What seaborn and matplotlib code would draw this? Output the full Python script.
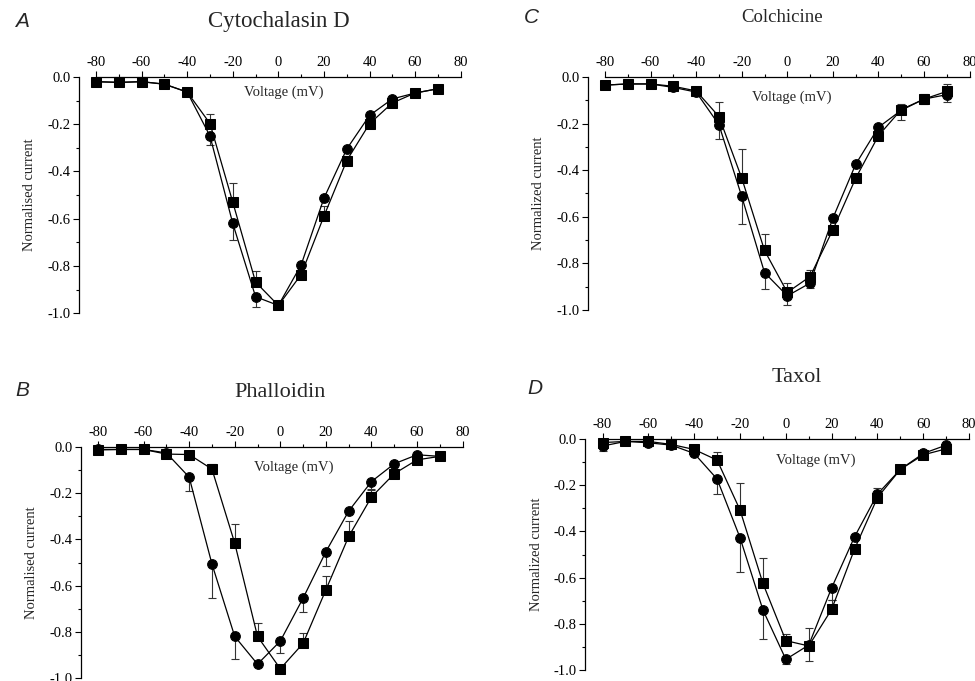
import matplotlib
matplotlib.use('Agg')
import matplotlib.pyplot as plt
import seaborn as sns
import numpy as np
import pandas as pd

voltage = [-80, -70, -60, -50, -40, -30, -20, -10, 0, 10, 20, 30, 40, 50, 60, 70]

# Cytochalasin D
cyto_circle = [-0.02, -0.023, -0.02, -0.03, -0.064, -0.25, -0.62, -0.93, -0.967, -0.795, -0.513, -0.305, -0.163, -0.093, -0.068, -0.05]
cyto_circle_err = [0, 0, 0, 0, 0, 0.04, 0.07, 0.045, 0, 0, 0, 0, 0, 0, 0, 0]
cyto_square = [-0.02, -0.023, -0.02, -0.031, -0.064, -0.197, -0.53, -0.868, -0.967, -0.836, -0.589, -0.354, -0.198, -0.11, -0.068, -0.05]
cyto_square_err = [0, 0, 0, 0, 0, 0.04, 0.08, 0.045, 0, 0, 0.045, 0.02, 0, 0, 0, 0]

# Colchicine
colch_circle = [-0.035, -0.03, -0.03, -0.045, -0.065, -0.205, -0.513, -0.84, -0.94, -0.885, -0.606, -0.375, -0.216, -0.143, -0.095, -0.076]
colch_circle_err = [0, 0, 0, 0, 0, 0.06, 0.117, 0.07, 0.04, 0.02, 0, 0, 0, 0.04, 0.02, 0.03]
colch_square = [-0.035, -0.03, -0.03, -0.04, -0.06, -0.17, -0.434, -0.745, -0.925, -0.857, -0.656, -0.435, -0.252, -0.14, -0.095, -0.062]
colch_square_err = [0, 0, 0, 0, 0, 0.063, 0.125, 0.07, 0.04, 0.03, 0, 0, 0, 0.025, 0.02, 0.03]

# Phalloidin
phall_circle = [-0.01, -0.01, -0.01, -0.025, -0.13, -0.506, -0.82, -0.94, -0.84, -0.654, -0.453, -0.277, -0.149, -0.072, -0.033, -0.04]
phall_circle_err = [0, 0, 0, 0, 0.06, 0.147, 0.096, 0, 0.053, 0.058, 0.06, 0, 0.036, 0, 0, 0]
phall_square = [-0.012, -0.01, -0.01, -0.03, -0.032, -0.095, -0.416, -0.82, -0.96, -0.85, -0.618, -0.387, -0.216, -0.115, -0.055, -0.04]
phall_square_err = [0, 0, 0, 0, 0, 0.023, 0.084, 0.06, 0, 0.046, 0.06, 0.065, 0.035, 0, 0, 0.02]

# Taxol
taxol_circle = [-0.03, -0.01, -0.016, -0.026, -0.062, -0.173, -0.427, -0.74, -0.954, -0.892, -0.644, -0.423, -0.238, -0.131, -0.062, -0.026]
taxol_circle_err = [0.02, 0, 0, 0, 0, 0.065, 0.15, 0.128, 0.02, 0.07, 0.054, 0, 0, 0, 0, 0]
taxol_square = [-0.015, -0.01, -0.01, -0.023, -0.045, -0.091, -0.307, -0.625, -0.873, -0.896, -0.737, -0.476, -0.253, -0.131, -0.068, -0.042]
taxol_square_err = [0, 0, 0, 0, 0, 0.033, 0.118, 0.108, 0.03, 0.076, 0.04, 0, 0.04, 0, 0, 0]

sns.set_style('ticks')
plt.rcParams['font.family'] = ['Liberation Serif', 'DejaVu Serif']
plt.rcParams['axes.unicode_minus'] = False

fig = plt.figure(figsize=(9.75, 6.81), dpi=100)

panels = [
    dict(letter='A', title='Cytochalasin D', ylabel='Normalised current',
         circle=cyto_circle, circle_err=cyto_circle_err, square=cyto_square, square_err=cyto_square_err,
         rect=[0.0985, 0.540, 0.374, 0.347], letter_xy=(0.0226, 0.968), title_xy=(0.286, 0.968), title_size=16.5,
         label_xy=(0.515, 0.936)),
    dict(letter='C', title='Colchicine', ylabel='Normalized current',
         circle=colch_circle, circle_err=colch_circle_err, square=colch_square, square_err=colch_square_err,
         rect=[0.6205, 0.545, 0.374, 0.342], letter_xy=(0.545, 0.975), title_xy=(0.802, 0.974), title_size=13.5,
         label_xy=(0.512, 0.914)),
    dict(letter='B', title='Phalloidin', ylabel='Normalised current',
         circle=phall_circle, circle_err=phall_circle_err, square=phall_square, square_err=phall_square_err,
         rect=[0.1005, 0.0044, 0.374, 0.339], letter_xy=(0.0226, 0.427), title_xy=(0.287, 0.423), title_size=16,
         label_xy=(0.538, 0.913)),
    dict(letter='D', title='Taxol', ylabel='Normalized current',
         circle=taxol_circle, circle_err=taxol_circle_err, square=taxol_square, square_err=taxol_square_err,
         rect=[0.618, 0.0162, 0.376, 0.339], letter_xy=(0.549, 0.430), title_xy=(0.817, 0.445), title_size=16,
         label_xy=(0.582, 0.909)),
]


def fmt_y(v, pos):
    s = '%.1f' % v
    return '0.0' if s == '-0.0' else s


for p in panels:
    ax = fig.add_axes(p['rect'])
    df = pd.DataFrame({'voltage': voltage, 'circle': p['circle'], 'square': p['square']})

    # error bars: circles hang downward, squares point upward
    ax.errorbar(df['voltage'], df['circle'], yerr=[p['circle_err'], np.zeros(len(voltage))],
                fmt='none', ecolor='#333333', elinewidth=0.8, capsize=3, capthick=0.8, clip_on=False)
    ax.errorbar(df['voltage'], df['square'], yerr=[np.zeros(len(voltage)), p['square_err']],
                fmt='none', ecolor='#333333', elinewidth=0.8, capsize=3, capthick=0.8, clip_on=False)

    sns.lineplot(data=df, x='voltage', y='circle', ax=ax, color='black', linewidth=0.9,
                 marker='o', markersize=7, markeredgecolor='black')
    sns.lineplot(data=df, x='voltage', y='square', ax=ax, color='black', linewidth=0.9,
                 marker='s', markersize=6.5, markeredgecolor='black')
    for ln in ax.lines:
        ln.set_clip_on(False)

    ax.set_xlim(-80, 80)
    ax.set_ylim(-1.0, 0.0)
    ax.set_xticks(range(-80, 81, 20))
    ax.set_xticks(range(-70, 80, 20), minor=True)
    ax.set_yticks([-1.0, -0.8, -0.6, -0.4, -0.2, 0.0])
    ax.set_yticks([-0.9, -0.7, -0.5, -0.3, -0.1], minor=True)
    ax.yaxis.set_major_formatter(matplotlib.ticker.FuncFormatter(fmt_y))

    ax.xaxis.tick_top()
    ax.spines['bottom'].set_visible(False)
    ax.spines['right'].set_visible(False)
    ax.spines['left'].set_position(('outward', 12.5))
    for s in ['top', 'left']:
        ax.spines[s].set_linewidth(0.9)
        ax.spines[s].set_color('black')
    ax.tick_params(axis='both', which='major', length=4, width=0.8, labelsize=10.5, pad=2, colors='black')
    ax.tick_params(axis='both', which='minor', length=2.5, width=0.8, colors='black')
    ax.set_xlabel('')
    ax.set_ylabel(p['ylabel'], fontsize=10.5, labelpad=8)
    ax.text(p['label_xy'][0], p['label_xy'][1], 'Voltage (mV)', transform=ax.transAxes,
            ha='center', va='center', fontsize=10.5)

    fig.text(p['title_xy'][0], p['title_xy'][1], p['title'], ha='center', va='center',
             fontsize=p['title_size'])
    fig.text(p['letter_xy'][0], p['letter_xy'][1], p['letter'], ha='center', va='center',
             fontsize=15, style='italic', family=['Liberation Sans', 'DejaVu Sans'])

fig.savefig('out.png', dpi=100)
